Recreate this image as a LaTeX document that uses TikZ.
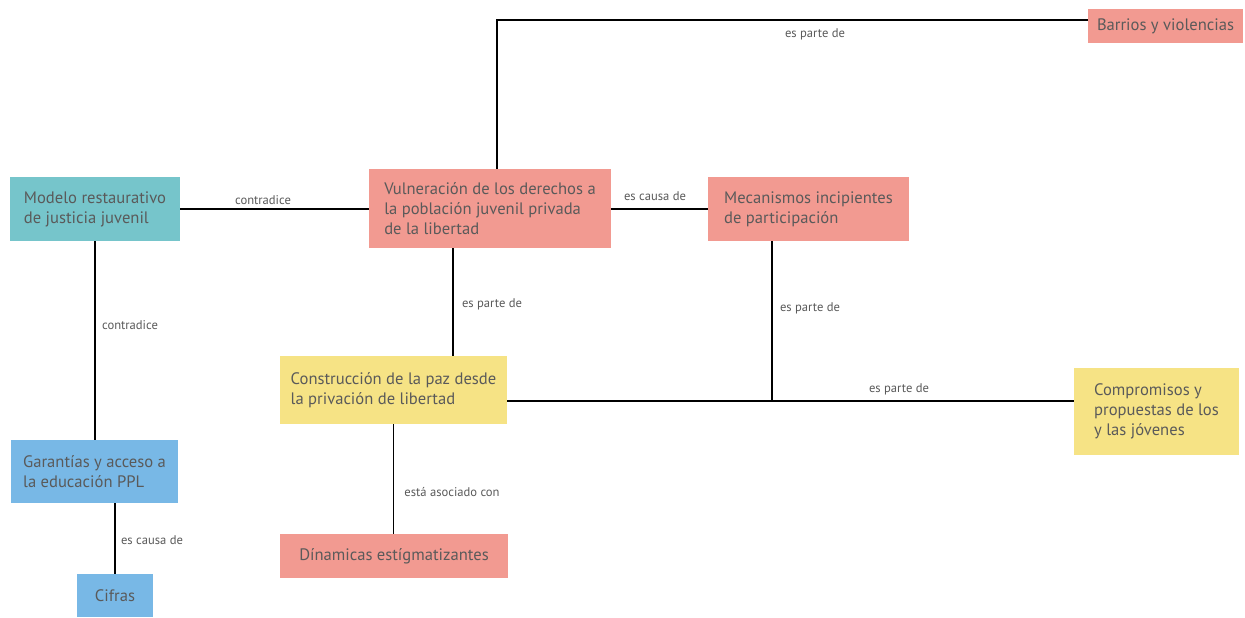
\documentclass[tikz,border=0pt]{standalone}
\usepackage{fontspec}
\setmainfont{PT Sans}
\definecolor{cred}{HTML}{F29A91}
\definecolor{cteal}{HTML}{76C5CB}
\definecolor{cyel}{HTML}{F6E385}
\definecolor{cblue}{HTML}{78B8E6}
\definecolor{ctxt}{HTML}{5A5A5A}
\tikzset{
  box/.style={inner sep=0pt, align=left, text=ctxt, font=\fontsize{16.6}{20}\selectfont, anchor=center},
  lab/.style={inner sep=1pt, text=ctxt, font=\fontsize{12.6}{14}\selectfont},
  conn/.style={draw=black, line width=1.6pt}
}
\begin{document}
\begin{tikzpicture}[x=1pt,y=-1pt]
\useasboundingbox[fill=white] (0,0) rectangle (1245,618);
\node[box, fill=cteal, minimum width=170pt, minimum height=64pt] (modelo) at (95,209) {Modelo restaurativo\\de justicia juvenil};
\node[box, fill=cred, minimum width=242pt, minimum height=79pt] (vuln) at (490,208.5) {Vulneración de los derechos a\\la población juvenil privada\\de la libertad};
\node[box, fill=cred, minimum width=201pt, minimum height=64pt] (meca) at (808.5,209) {Mecanismos incipientes\\de participación};
\node[box, fill=cred, minimum width=155pt, minimum height=34pt] (barrios) at (1165.5,26) {Barrios y violencias};
\node[box, fill=cyel, minimum width=227pt, minimum height=68pt] (cons) at (393.5,390) {Construcción de la paz desde\\la privación de libertad};
\node[box, fill=cyel, minimum width=165pt, minimum height=87pt] (comp) at (1156.5,411.5) {Compromisos y\\propuestas de los\\y las jóvenes};
\node[box, fill=cblue, minimum width=167pt, minimum height=63pt] (gar) at (94.5,471.5) {Garantías y acceso a\\la educación PPL};
\node[box, fill=cblue, minimum width=76pt, minimum height=43pt] (cifras) at (115,595.5) {Cifras};
\node[box, fill=cred, minimum width=228pt, minimum height=44pt] (din) at (394,556) {Dínamicas estígmatizantes};

\coordinate (vt) at ([xshift=7pt]vuln.north);
\coordinate (bw) at ([yshift=6pt]barrios.west);
\coordinate (vb) at ([xshift=-37pt]vuln.south);
\coordinate (j) at ([yshift=-11pt]cons.east);
\coordinate (mb) at ([xshift=-36.5pt]meca.south);

\draw[conn] (modelo.east) -- (modelo.east -| vuln.west);
\draw[conn] (meca.west -| vuln.east) -- (meca.west);
\draw[conn] (vt) |- (bw);
\draw[conn] (vb) -- (vb |- cons.north);
\draw[conn] (modelo.south) -- (modelo.south |- gar.north);
\draw[conn] (cifras.north |- gar.south) -- (cifras.north);
\draw[conn] (cons.south) -- (cons.south |- din.north);
\draw[conn] (j) -- (j -| comp.west);
\draw[conn] (mb) -- (mb |- j);

\node[lab] (l1) at (263,200) {contradice};
\node[lab] (l2) at (655,196) {es causa de};
\node[lab] (l3) at (815,34) {es parte de};
\node[lab] (l4) at (492,304) {es parte de};
\node[lab] (l5) at (130,325) {contradice};
\node[lab] (l6) at (152,540) {es causa de};
\node[lab] (l7) at (452,492) {está asociado con};
\node[lab] (l8) at (899,389) {es parte de};
\node[lab] (l9) at (810,308) {es parte de};
\end{tikzpicture}
\end{document}
